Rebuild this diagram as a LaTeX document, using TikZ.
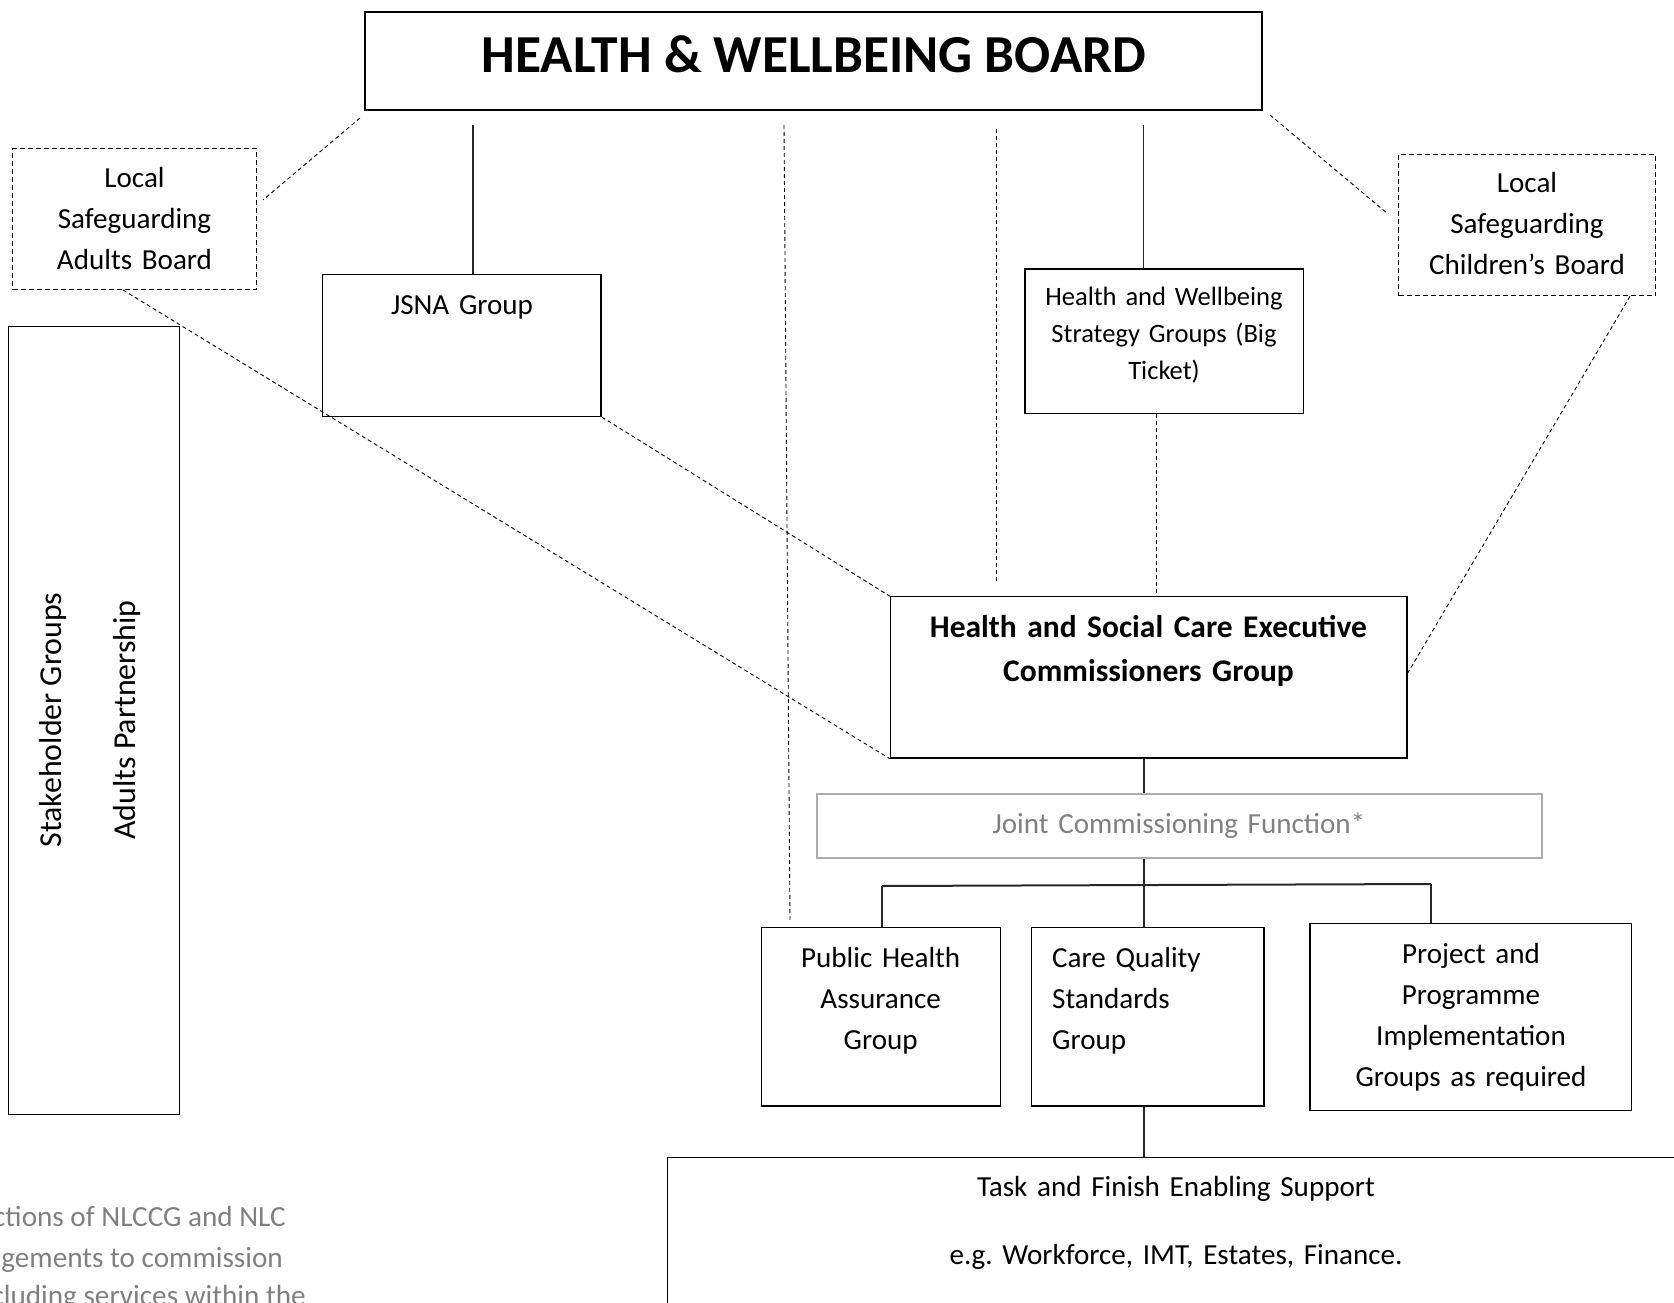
\documentclass[tikz,border=0pt]{standalone}
\usepackage{fontspec}
\setmainfont{Carlito}
\begin{document}
\frenchspacing
\begin{tikzpicture}[x=1pt,y=-1pt,
  box/.style={draw=black, line width=1.3pt, inner sep=0pt},
  dbox/.style={draw=black, line width=1.2pt, dash pattern=on 5pt off 3pt, inner sep=0pt},
  greybox/.style={draw=black!32, line width=2pt, inner sep=0pt},
  link/.style={draw=black!85, line width=1.1pt},
  dlink/.style={draw=black, line width=0.9pt, dash pattern=on 4pt off 3pt},
  txt/.style={inner sep=0pt, anchor=base, text width=#1,
    font=\fontsize{29.1}{41}\selectfont,
    execute at begin node=\centering},
  txt/.default=420,
  small/.style={font=\fontsize{26.55}{37.3}\selectfont},
  strong/.style={font=\fontsize{31.5}{44.7}\selectfont\bfseries},
  note/.style={inner sep=0pt, anchor=base east, text=black!50,
    font=\fontsize{29.2}{41}\selectfont},
]
\useasboundingbox (0,0) rectangle (1674,1303);

% ---- boxes ----
\node[box, minimum width=897, minimum height=98] (hwb) at (813.5,61) {};
\node[dbox, minimum width=243.4, minimum height=141] (lsab) at (134.5,218.9) {};
\node[box, minimum width=278.7, minimum height=142] (jsna) at (461.75,345.4) {};
\node[box, minimum width=278.6, minimum height=144.2] (hwsg) at (1164.2,341.1) {};
\node[dbox, minimum width=257.2, minimum height=140.9] (lscb) at (1527.2,225.25) {};
\node[box, minimum width=170.9, minimum height=787.9] (stake) at (93.95,720.65) {};
\node[box, minimum width=516.7, minimum height=161.2] (hsce) at (1148.75,677.4) {};
\node[greybox, minimum width=724.9, minimum height=64.1] (jcf) at (1179.15,826.35) {};
\node[box, minimum width=239.1, minimum height=178.3] (pha) at (880.75,1016.85) {};
\node[box, minimum width=232.7, minimum height=178.3] (cqs) at (1147.65,1016.85) {};
\node[box, minimum width=321.3, minimum height=186.8] (ppig) at (1470.65,1016.9) {};
\node[box, minimum width=1100, minimum height=300] (tfes) at (1217.3,1307.3) {};

% ---- texts ----
\node[inner sep=0pt, anchor=base, font=\fontsize{53.4}{60}\selectfont\bfseries]
  (t-hwb) at (814,73) {HEALTH \& WELLBEING BOARD};
\node[txt] (t-lsab) at (134.5,187) {Local\\Safeguarding\\Adults Board};
\node[txt] (t-jsna) at (462,314) {JSNA Group};
\node[txt, small] (t-hwsg) at (1164,305) {Health and Wellbeing\\Strategy Groups (Big\\Ticket)};
\node[txt] (t-lscb) at (1527,193) {Local\\Safeguarding\\Children’s Board};
\node[txt=600, strong] (t-hsce) at (1148.5,637) {Health and Social Care Executive\\Commissioners Group};
\node[txt=600, text=black!50] (t-jcf) at (1179,833) {Joint Commissioning Function*};
\node[txt] (t-pha) at (880.7,967) {Public Health\\Assurance\\Group};
\node[txt=200, anchor=base west, execute at begin node=\raggedright]
  (t-cqs) at (1052,967) {Care Quality\\Standards\\Group};
\node[txt] (t-ppig) at (1471,963) {Project and\\Programme\\Implementation\\Groups as required};
\node[txt=700] (t-tfes) at (1176,1196) {Task and Finish Enabling Support\\[27pt]e.g. Workforce, IMT, Estates, Finance.};
\node[inner sep=0pt, anchor=base, rotate=90, font=\fontsize{31.9}{44.7}\selectfont]
  (t-stake1) at (61,720) {Stakeholder Groups};
\node[inner sep=0pt, anchor=base, rotate=90, font=\fontsize{31.9}{44.7}\selectfont]
  (t-stake2) at (135,720) {Adults Partnership};
\node[note] (n1) at (286,1226) {ctions of NLCCG and NLC};
\node[note] (n2) at (283,1267) {gements to commission};
\node[note] (n3) at (306,1305) {cluding services within the};

% ---- connector end points ----
\coordinate (c1) at (360,118);
\coordinate (c2) at (263,200);
\coordinate (c3) at (1270,115);
\coordinate (c4) at (1388,214);
\coordinate (j1) at (473,125);
\coordinate (s1) at (1143.5,125);
\coordinate (p1) at (784,125);
\coordinate (p2) at (790,922);
\coordinate (e1) at (996,129);
\coordinate (e2) at (996,582);
\coordinate (k) at (1156,0);
\coordinate (l1) at (123,0);
\coordinate (m1) at (1630,0);
\coordinate (m2) at (0,673);
\coordinate (spine) at (1144,0);
\coordinate (b1) at (882,886);
\coordinate (b2) at (1431,884);

% ---- connectors ----
\draw[dlink] (c1) -- (c2);
\draw[dlink] (c3) -- (c4);
\draw[link] (j1) -- (jsna.north -| j1);
\draw[link] (s1) -- (hwsg.north -| s1);
\draw[dlink] (p1) -- (p2);
\draw[dlink] (e1) -- (e2);
\draw[dlink] (hwsg.south -| k) -- (hsce.north -| k);
\draw[dlink] (lsab.south -| l1) -- (hsce.south west);
\draw[dlink] (jsna.south east) -- (hsce.north west);
\draw[dlink] (lscb.south -| m1) -- (hsce.east |- m2);
\draw[link] (hsce.south -| spine) -- (jcf.north -| spine);
\draw[link] (jcf.south -| spine) -- (cqs.north -| spine);
\draw[link] (cqs.south -| spine) -- (tfes.north -| spine);
\draw[link, line width=2pt] (b1) -- (b2);
\draw[link] (b1) -- (pha.north -| b1);
\draw[link] (b2) -- (ppig.north -| b2);
\end{tikzpicture}
\end{document}
